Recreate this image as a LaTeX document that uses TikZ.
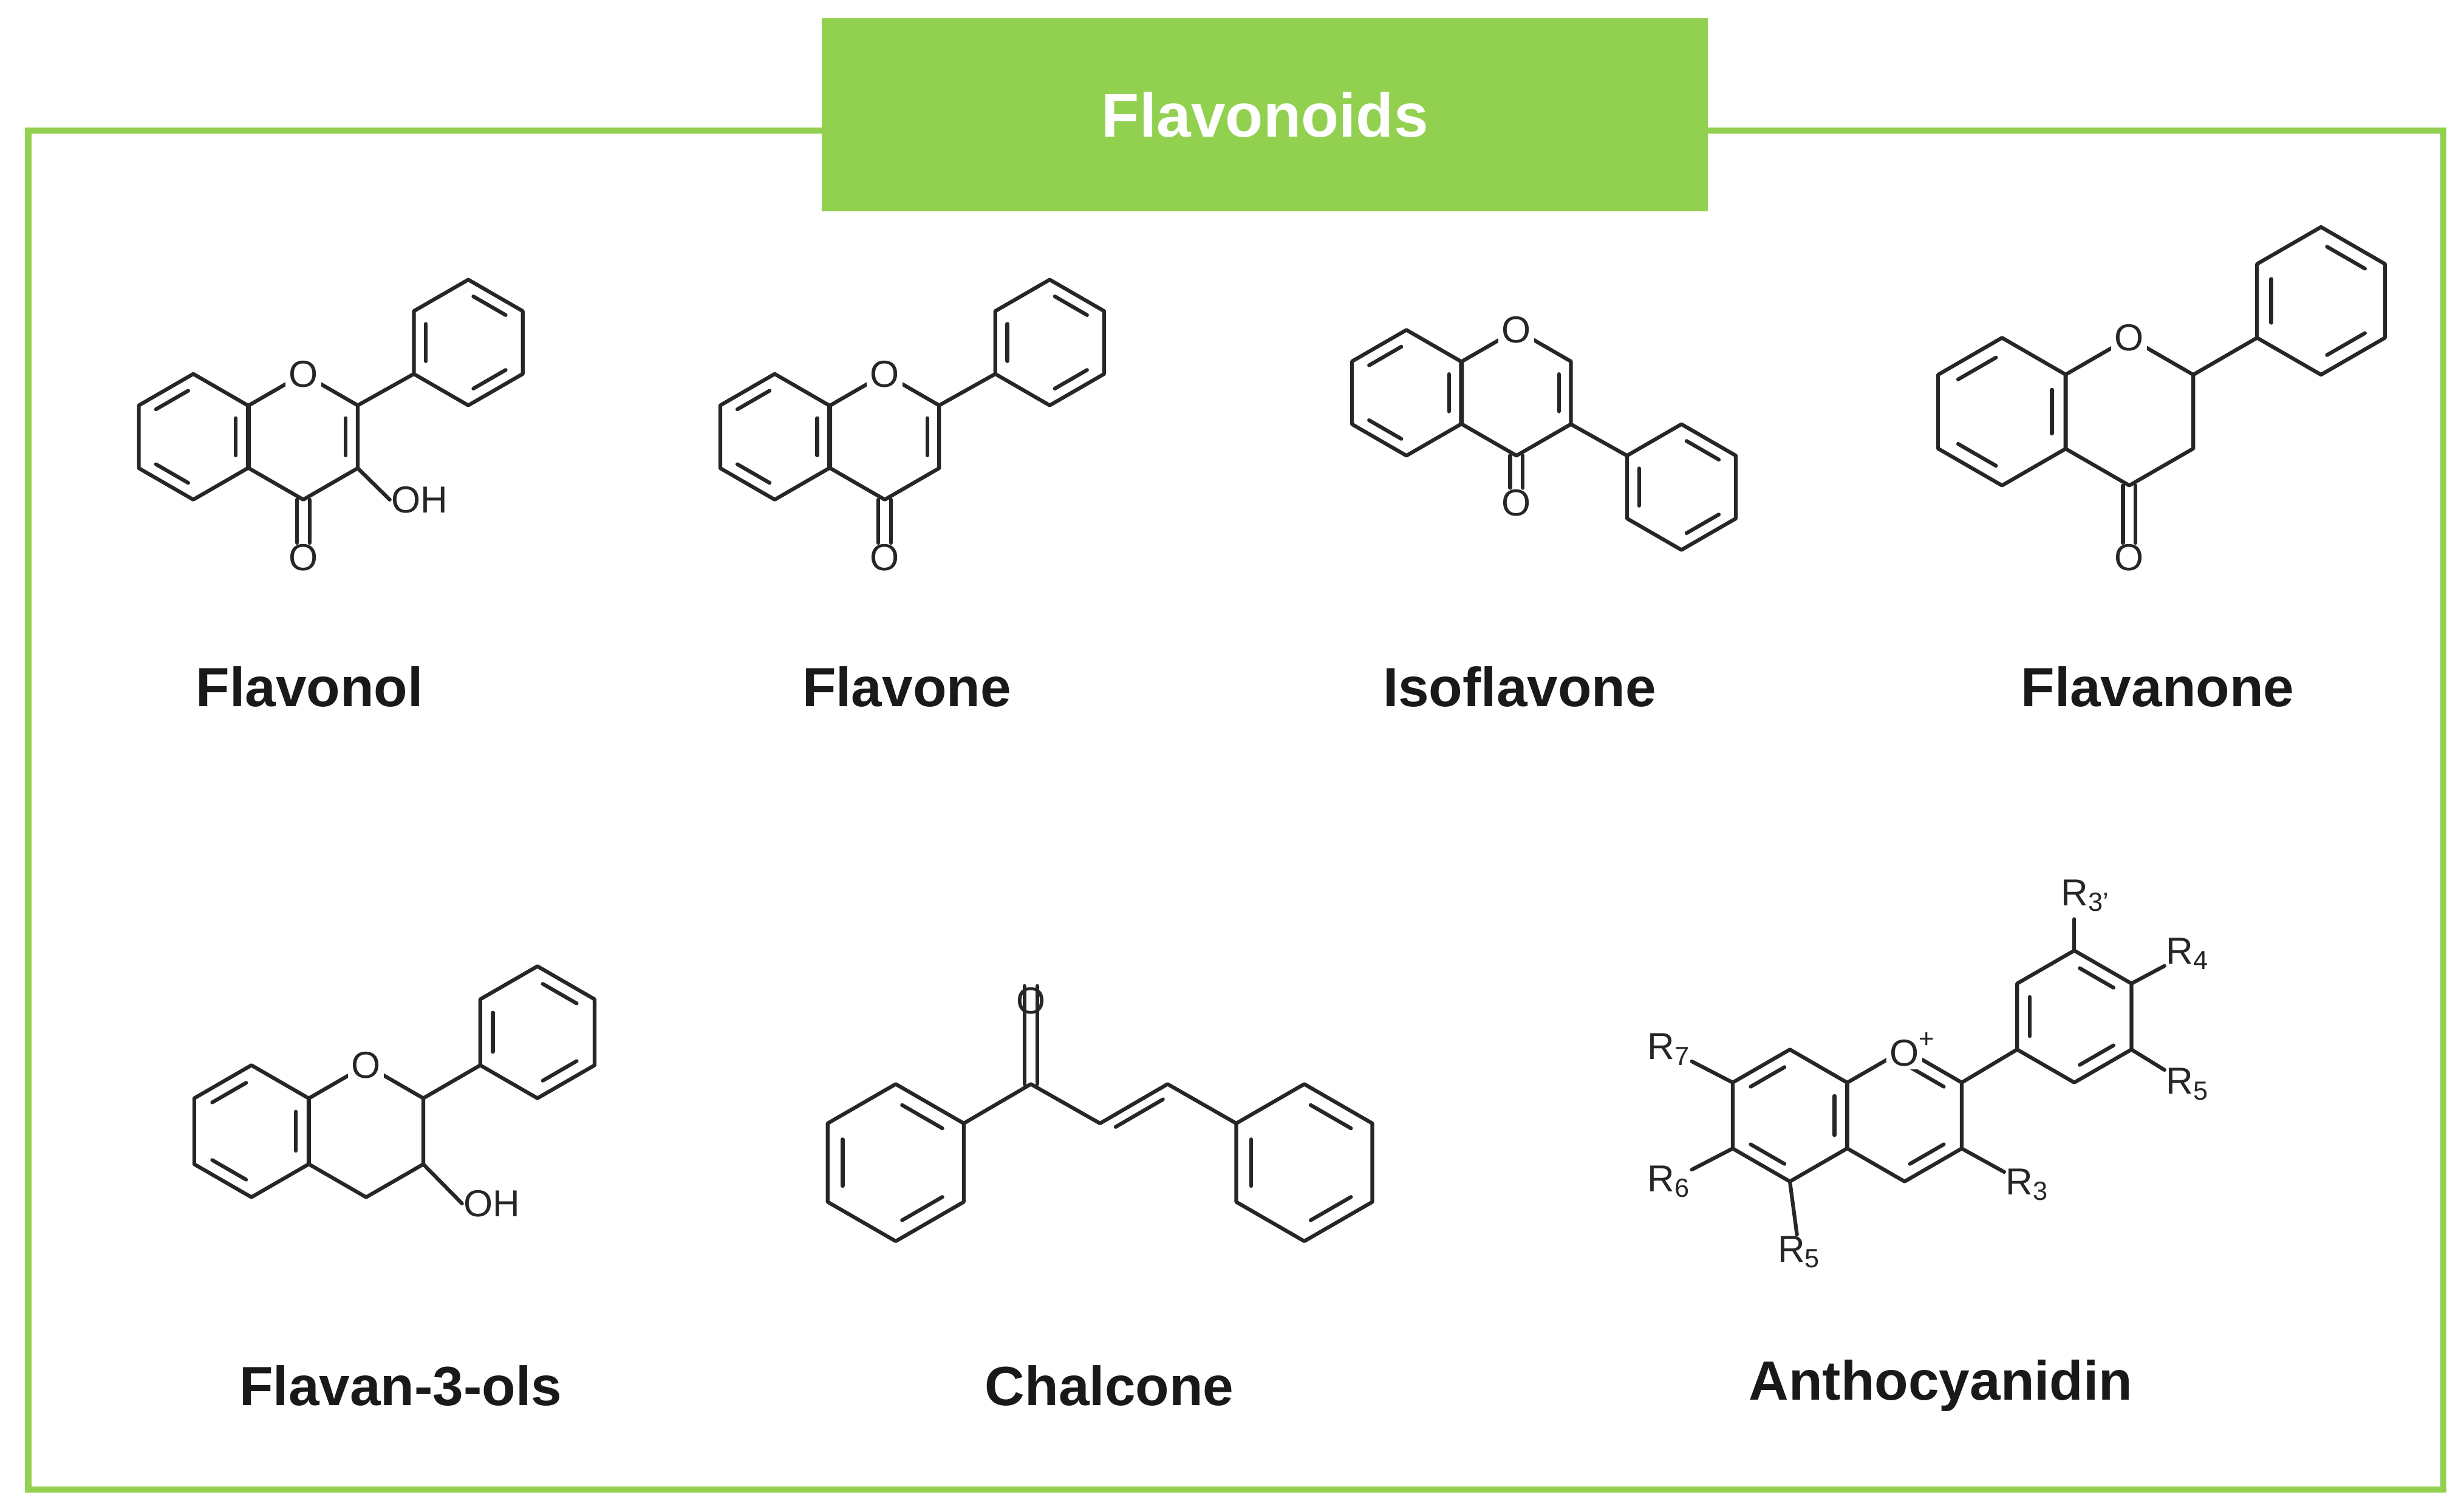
\documentclass[tikz,border=0pt]{standalone}
\usepackage{fontspec}
\setmainfont{Liberation Sans}
\usetikzlibrary{calc}
\definecolor{fgreen}{RGB}{146,208,80}
\tikzset{
  bond/.style={line width=1.7pt, line cap=round, line join=round, black!85},
  atom/.style={fill=white, inner sep=1.5pt, font=\fontsize{17}{19}\selectfont, text=black!85},
  title/.style={font=\fontsize{25}{29}\selectfont\bfseries, text=black!90},
}
\newcommand\hexring[4]{%
\coordinate (#4c) at (#1,#2);
\coordinate (#41) at (#1,{#2-#3});
\coordinate (#42) at ({#1+0.866*#3},{#2-0.5*#3});
\coordinate (#43) at ({#1+0.866*#3},{#2+0.5*#3});
\coordinate (#44) at (#1,{#2+#3});
\coordinate (#45) at ({#1-0.866*#3},{#2+0.5*#3});
\coordinate (#46) at ({#1-0.866*#3},{#2-0.5*#3});
\draw[bond] (#41)--(#42)--(#43)--(#44)--(#45)--(#46)--cycle;}
\newcommand\inb[3]{\path ($(#1c)!0.78!(#1#2)$) coordinate (tA) ($(#1c)!0.78!(#1#3)$) coordinate (tB);
\draw[bond] ($(tA)!0.12!(tB)$) -- ($(tB)!0.12!(tA)$);}
\newcommand\benz[1]{\inb{#1}{1}{2}\inb{#1}{3}{4}\inb{#1}{5}{6}}
\newcommand\fusedA[1]{\inb{#1}{6}{1}\inb{#1}{4}{5}\inb{#1}{2}{3}}
\newcommand\carbonyl[3]{% from coordinate, to node, offset
\draw[bond] ($(#1)+(-#3,0)$) -- ($(#2.north)+(-#3,0)$);
\draw[bond] ($(#1)+(#3,0)$) -- ($(#2.north)+(#3,0)$);}
\begin{document}
\begin{tikzpicture}[x=0.025cm,y=-0.025cm]
\useasboundingbox (0,0) rectangle (1568,962);
\fill[white] (0,0) rectangle (1568,962);
% frame
\draw[fgreen, line width=2.8pt] (18,83) rectangle (1555,948);
\node[fill=fgreen, minimum width=564*0.025cm, minimum height=123*0.025cm, inner sep=0,
  text=white, font=\fontsize{28}{32}\selectfont\bfseries] (head) at (805,73) {Flavonoids};

% ---- Flavonol
\hexring{123}{278}{40}{fa}
\hexring{193}{278}{40}{fc}
\hexring{298}{218}{40}{fb}
\fusedA{fa}\benz{fb}\inb{fc}{2}{3}
\draw[bond] (fc2) -- (fb5);
\node[atom] (fo1) at (fc1) {O};
\node[atom, inner sep=0.5pt] (fo2) at (193,355) {O};
\carbonyl{fc4}{fo2}{4}
\node[atom, anchor=west, inner sep=0.5pt] (foh) at (248,318) {OH};
\draw[bond] (fc3) -- (foh.west);
\node[title] (l1) at (197,437) {Flavonol};

% ---- Flavone
\hexring{493}{278}{40}{ga}
\hexring{563}{278}{40}{gc}
\hexring{668}{218}{40}{gb}
\fusedA{ga}\benz{gb}\inb{gc}{2}{3}
\draw[bond] (gc2) -- (gb5);
\node[atom] (go1) at (gc1) {O};
\node[atom, inner sep=0.5pt] (go2) at (563,355) {O};
\carbonyl{gc4}{go2}{4}
\node[title] (l2) at (577,437) {Flavone};

% ---- Isoflavone
\hexring{895}{250}{40}{ia}
\hexring{965}{250}{40}{ic}
\hexring{1070}{310}{40}{ib}
\fusedA{ia}\benz{ib}\inb{ic}{2}{3}
\draw[bond] (ic3) -- (ib6);
\node[atom] (io1) at (ic1) {O};
\node[atom, inner sep=0.5pt] (io2) at (965,320) {O};
\carbonyl{ic4}{io2}{4}
\node[title] (l3) at (967,437) {Isoflavone};

% ---- Flavanone
\hexring{1274}{262}{47}{na}
\hexring{1355}{262}{47}{nc}
\hexring{1477}{191.5}{47}{nb}
\fusedA{na}\benz{nb}
\draw[bond] (nc2) -- (nb5);
\node[atom] (no1) at (nc1) {O};
\node[atom, inner sep=0.5pt] (no2) at (1355,355) {O};
\carbonyl{nc4}{no2}{4}
\node[title] (l4) at (1373,437) {Flavanone};

% ---- Flavan-3-ols
\hexring{160}{720}{42}{pa}
\hexring{233}{720}{42}{pc}
\hexring{342}{657}{42}{pb}
\fusedA{pa}\benz{pb}
\draw[bond] (pc2) -- (pb5);
\node[atom] (po1) at (pc1) {O};
\node[atom, anchor=west, inner sep=0.5pt] (poh) at (294,766) {OH};
\draw[bond] (pc3) -- (poh.west);
\node[title] (l5) at (255,882) {Flavan-3-ols};

% ---- Chalcone
\hexring{570}{740}{50}{ca}
\hexring{830}{740}{50}{cb}
\benz{ca}\inb{cb}{1}{2}\inb{cb}{3}{4}\inb{cb}{5}{6}
\coordinate (cco) at (656,690);
\coordinate (cal) at (700,715);
\coordinate (cbe) at (743,690);
\node[atom, inner sep=0.5pt] (co) at (656,637) {O};
\draw[bond] (ca2) -- (cco) -- (cal) -- (cbe) -- (cb6);
\carbonyl{cco}{co}{4}
\draw[bond] ($(cal)!0.15!(cbe)+(3.5,6)$) -- ($(cbe)!0.15!(cal)+(3.5,6)$);
\node[title] (l6) at (706,882) {Chalcone};

% ---- Anthocyanidin
\hexring{1139}{710}{42}{aa}
\hexring{1212}{710}{42}{ac}
\hexring{1320}{647}{42}{ab}
\inb{aa}{6}{1}\inb{aa}{4}{5}\inb{aa}{2}{3}
\inb{ac}{1}{2}\inb{ac}{3}{4}
\benz{ab}
\draw[bond] (ac2) -- (ab5);
\node[atom] (ao) at (ac1) {O\rlap{\raisebox{0.9ex}{\fontsize{12}{12}\selectfont+}}};
\node[atom, inner sep=0.5pt] (r7) at (1062,668) {R\textsubscript{7}};
\node[atom, inner sep=0.5pt] (r6) at (1062,752) {R\textsubscript{6}};
\node[atom, inner sep=0.5pt] (r5a) at (1145,797) {R\textsubscript{5}};
\node[atom, inner sep=0.5pt] (r3) at (1290,754) {R\textsubscript{3}};
\node[atom, inner sep=0.5pt] (r3p) at (1327,570) {R\textsubscript{3'}};
\node[atom, inner sep=0.5pt] (r4) at (1392,607) {R\textsubscript{4}};
\node[atom, inner sep=0.5pt] (r5b) at (1392,690) {R\textsubscript{5}};
\draw[bond] (aa6) -- (r7);
\draw[bond] (aa5) -- (r6);
\draw[bond] (aa4) -- (r5a);
\draw[bond] (ac3) -- (r3);
\draw[bond] (ab1) -- (1320,585);
\draw[bond] (ab2) -- (r4);
\draw[bond] (ab3) -- (r5b);
\node[title] (l7) at (1235,882) {Anthocyanidin};
\end{tikzpicture}
\end{document}
